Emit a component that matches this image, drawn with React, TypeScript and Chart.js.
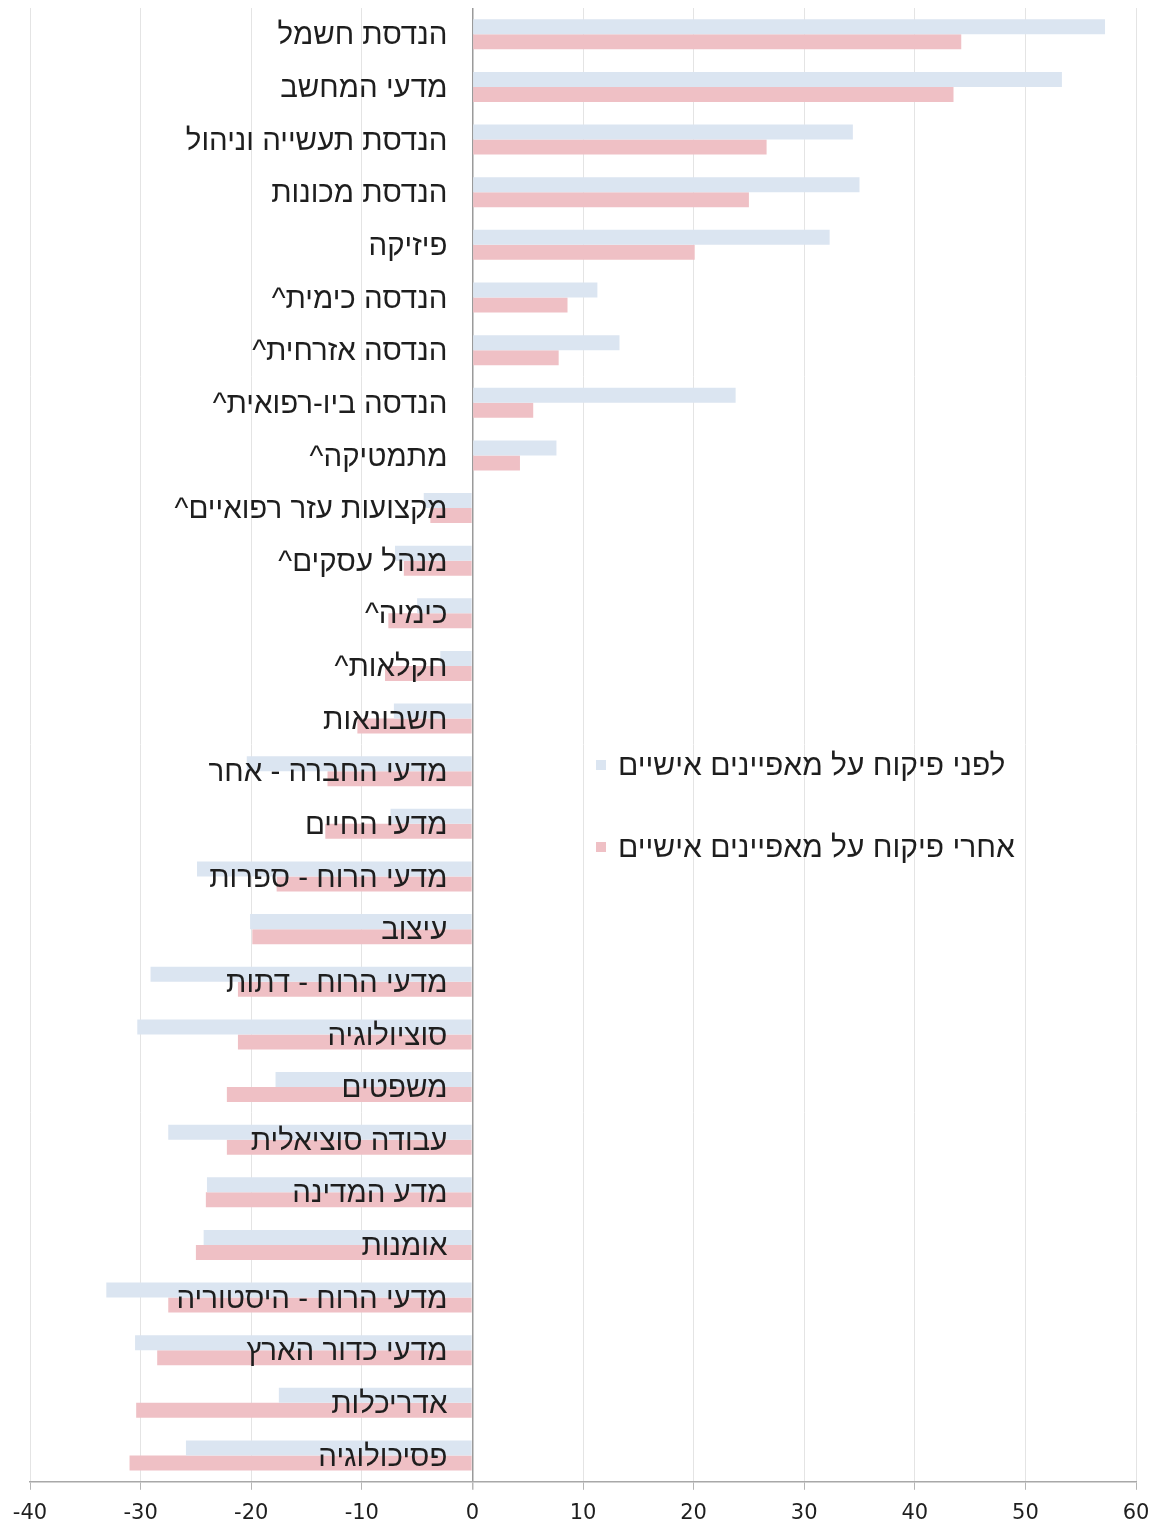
import React, { useEffect, useRef } from "react";
import { Chart, registerables } from "chart.js";

Chart.register(...registerables);

const categories: string[] = [
  "הנדסת חשמל",
  "מדעי המחשב",
  "הנדסת תעשייה וניהול",
  "הנדסת מכונות",
  "פיזיקה",
  "הנדסה כימית^",
  "הנדסה אזרחית^",
  "הנדסה ביו-רפואית^",
  "מתמטיקה^",
  "מקצועות עזר רפואיים^",
  "מנהל עסקים^",
  "כימיה^",
  "חקלאות^",
  "חשבונאות",
  "מדעי החברה - אחר",
  "מדעי החיים",
  "מדעי הרוח - ספרות",
  "עיצוב",
  "מדעי הרוח - דתות",
  "סוציולוגיה",
  "משפטים",
  "עבודה סוציאלית",
  "מדע המדינה",
  "אומנות",
  "מדעי הרוח - היסטוריה",
  "מדעי כדור הארץ",
  "אדריכלות",
  "פסיכולוגיה",
];

const beforeValues: number[] = [
  57.2, 53.3, 34.4, 35.0, 32.3, 11.3, 13.3, 23.8, 7.6, -4.4, -7.0, -5.0, -2.9, -7.1,
  -20.4, -7.4, -24.9, -20.1, -29.1, -30.3, -17.8, -27.5, -24.0, -24.3, -33.1, -30.5, -17.5, -25.9,
];

const afterValues: number[] = [
  44.2, 43.5, 26.6, 25.0, 20.1, 8.6, 7.8, 5.5, 4.3, -3.8, -6.2, -7.6, -7.9, -10.4,
  -13.1, -13.3, -17.7, -19.9, -21.2, -21.2, -22.2, -22.2, -24.1, -25.0, -27.5, -28.5, -30.4, -31.0,
];

const seriesNames: string[] = [
  "לפני פיקוח על מאפיינים אישיים",
  "אחרי פיקוח על מאפיינים אישיים",
];

const xMin = -40;
const xMax = 60;
const xStep = 10;

const BLUE = "#dbe5f1";
const PINK = "#efc0c5";
const LABEL_FONT = "'Liberation Sans', Arial, sans-serif";

const labelPlugin = {
  id: "insideLabels",
  afterDatasetsDraw(chart: any) {
    const ctx = chart.ctx;
    const xs = chart.scales.x;
    const ys = chart.scales.y;
    const x0 = xs.getPixelForValue(0);
    ctx.save();
    ctx.font = "29.5px " + LABEL_FONT;
    ctx.fillStyle = "#1e1e1e";
    ctx.textBaseline = "middle";
    ctx.textAlign = "right";
    (ctx as any).direction = "rtl";
    categories.forEach((c, i) => {
      ctx.fillText(c, x0 - 25, ys.getPixelForValue(i) + 2);
    });
    ctx.restore();
  },
};

export default function App() {
  const ref = useRef<HTMLCanvasElement | null>(null);

  useEffect(() => {
    if (!ref.current) return;
    const chart = new Chart(ref.current, {
      type: "bar",
      data: {
        labels: categories,
        datasets: [
          {
            label: seriesNames[0],
            data: beforeValues,
            backgroundColor: BLUE,
            borderWidth: 0,
            categoryPercentage: 0.57,
            barPercentage: 1,
          },
          {
            label: seriesNames[1],
            data: afterValues,
            backgroundColor: PINK,
            borderWidth: 0,
            categoryPercentage: 0.57,
            barPercentage: 1,
          },
        ],
      },
      plugins: [labelPlugin],
      options: {
        indexAxis: "y",
        responsive: false,
        animation: false,
        maintainAspectRatio: false,
        layout: { padding: { left: 30, right: 22, top: 8, bottom: -15 } },
        plugins: {
          legend: { display: false },
          tooltip: { enabled: false },
        },
        scales: {
          x: {
            min: xMin,
            max: xMax,
            ticks: {
              stepSize: xStep,
              color: "#1e1e1e",
              padding: 11,
              font: { family: "'DejaVu Sans', sans-serif", size: 21 },
            },
            grid: {
              color: (c: any) => (c.tick && c.tick.value === 0 ? "#9a9a9a" : "#e4e4e4"),
              lineWidth: (c: any) => (c.tick && c.tick.value === 0 ? 1.5 : 1),
              tickColor: "#b5b5b5",
              tickLength: 8,
            },
            border: { display: true, color: "#a8a8a8", width: 1.5 },
            afterFit: (s: any) => {
              s.paddingLeft = 0;
              s.paddingRight = 0;
            },
          },
          y: {
            display: false,
            offset: true,
          },
        },
      },
    });
    return () => chart.destroy();
  }, []);

  const legendRow = (name: string, color: string, top: number) => (
    <div
      style={{
        position: "absolute",
        left: 596,
        top,
        display: "flex",
        alignItems: "center",
        gap: 12,
      }}
    >
      <span style={{ width: 10, height: 10, background: color, display: "inline-block" }} />
      <span
        dir="rtl"
        style={{
          fontFamily: LABEL_FONT,
          fontSize: 30,
          color: "#1e1e1e",
          lineHeight: "30px",
          whiteSpace: "nowrap",
        }}
      >
        {name}
      </span>
    </div>
  );

  return (
    <div style={{ position: "relative", width: 1158, height: 1522 }}>
      <style>{"body{margin:0;}"}</style>
      <canvas ref={ref} width={1158} height={1522} style={{ display: "block" }} />
      {legendRow(seriesNames[0], BLUE, 750)}
      {legendRow(seriesNames[1], PINK, 832)}
    </div>
  );
}
